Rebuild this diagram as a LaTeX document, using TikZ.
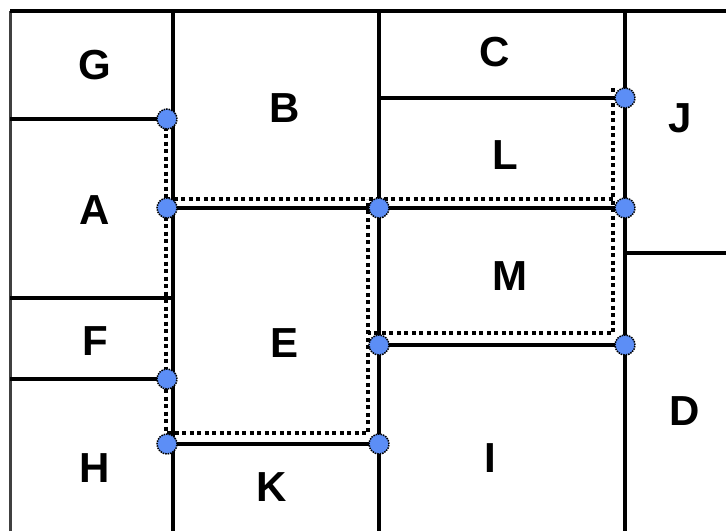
\documentclass[tikz,border=0pt]{standalone}
\usepackage{fontspec}
\setmainfont{Liberation Sans}
\usetikzlibrary{positioning}
\definecolor{dotblue}{RGB}{92,142,246}

\begin{document}
\begin{tikzpicture}[x=1pt, y=-1pt,
    wall/.style={line width=4pt, black},
    trace/.style={line width=4pt, black, dash pattern=on 4pt off 3.5pt},
    pin/.style={circle, fill=dotblue, draw=black, line width=1.5pt, densely dotted,
                minimum size=20pt, inner sep=0pt},
    room/.style={font=\fontsize{42}{44}\selectfont\bfseries},
]
    \useasboundingbox (0,0) rectangle (726,531);

    % Corner points
    \coordinate (tl) at (10,11);
    \coordinate (tr) at (726,11);
    \coordinate (bl) at (10,531);
    \coordinate (p1) at (167,119);
    \coordinate (p2) at (167,208);
    \coordinate (p3) at (167,379);
    \coordinate (p4) at (167,444);
    \coordinate (p5) at (379,208);
    \coordinate (p6) at (379,345);
    \coordinate (p7) at (379,444);
    \coordinate (p8) at (625,98);
    \coordinate (p9) at (625,208);
    \coordinate (p10) at (625,345);

    % Outer border
    \draw[wall, black!75, line width=3pt] (bl) -- (tl);
    \draw[wall] (tl) -- (tr);

    % Vertical walls
    \draw[wall] (173,11) -- (173,531);
    \draw[wall] (379,11) -- (379,531);
    \draw[wall] (625,11) -- (625,531);

    % Horizontal walls
    \draw[wall] (10,119) -- (p1);
    \draw[wall] (10,298) -- (173,298);
    \draw[wall] (10,379) -- (p3);
    \draw[wall] (p2) -- (p5) -- (p9);
    \draw[wall] (379,98) -- (p8);
    \draw[wall] (p6) -- (p10);
    \draw[wall] (p4) -- (p7);
    \draw[wall] (625,253) -- (726,253);

    % Dotted route
    \draw[trace] (166,119) -- (166,433) -- (368,433) -- (368,199);
    \draw[trace] (166,199) -- (613,199);
    \draw[trace] (613,88) -- (613,333) -- (368,333);

    % Rooms
    \node[room] (g) at (95,65) {G};
    \node[room] (b) at (285,108) {B};
    \node[room] (c) at (495,52) {C};
    \node[room] (j) at (680,118) {J};
    \node[room] (l) at (505,155) {L};
    \node[room] (a) at (95,210) {A};
    \node[room] (m) at (510,276) {M};
    \node[room] (f) at (95,341) {F};
    \node[room] (e) at (285,343) {E};
    \node[room] (d) at (685,411) {D};
    \node[room] (h) at (95,468) {H};
    \node[room] (i) at (490,458) {I};
    \node[room] (k) at (272,487) {K};

    % Pins
    \foreach \p in {p1,p2,p3,p4,p5,p6,p7,p8,p9,p10}
        \node[pin] at (\p) {};
\end{tikzpicture}
\end{document}
